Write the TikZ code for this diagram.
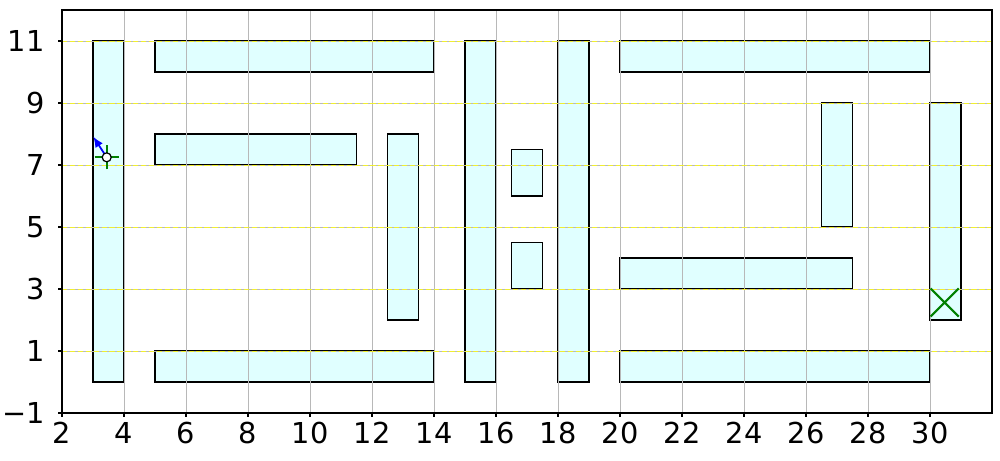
\documentclass[tikz,border=0pt]{standalone}
\usepackage{fontspec}
\setmainfont{DejaVu Sans}
\usetikzlibrary{arrows.meta,shapes.misc}
\definecolor{ObstFill}{HTML}{E0FFFF}
\definecolor{GridGray}{HTML}{B8B8B8}
\definecolor{GridYellow}{HTML}{F0EE30}
\definecolor{MarkGreen}{HTML}{008000}
\definecolor{HeadBlue}{HTML}{0000FF}
\tikzset{
  % obstacle block
  OB/.style={fill=ObstFill,draw=black,line width=0.7pt},
  % grid lines
  gV/.style={GridGray,line width=0.5pt},
  gH/.style={GridGray,line width=0.5pt},
  gY/.style={GridYellow,line width=0.55pt,dash pattern=on 3pt off 1.5pt},
  tk/.style={black,line width=0.6pt},
  % tick labels
  LX/.style={font=\fontsize{16.4}{19}\selectfont,inner sep=0pt},
  LY/.style={LX,anchor=east},
  % robot, heading and goal
  bot/.style={circle,draw=black,fill=white,line width=0.7pt,
              minimum size=0.18cm,inner sep=0pt},
  arr/.style={-{Latex[length=6pt,width=5pt]},HeadBlue,line width=1pt},
  goalX/.style={cross out,draw=MarkGreen,line width=1.2pt,
                minimum size=0.52cm,inner sep=0pt}
}
\begin{document}
\begin{tikzpicture}[x=0.62cm,y=0.62cm]
  \useasboundingbox (0,-2.516) rectangle (32.258,12.323);
  % obstacles
  \foreach \xa/\ya/\xb/\yb in {3/0/4/11, 5/10/14/11, 5/7/11.5/8, 12.5/2/13.5/8,
      5/0/14/1, 15/0/16/11, 16.5/6/17.5/7.5, 16.5/3/17.5/4.5, 18/0/19/11,
      20/10/30/11, 26.5/5/27.5/9, 30/2/31/9, 20/3/27.5/4, 20/0/30/1}
    \draw[OB] (\xa,\ya) rectangle (\xb,\yb);
  % grid
  \foreach \gx in {4,6,...,30}
    \draw[gV] (\gx,-1) -- (\gx,12);
  \foreach \gy in {1,3,...,11}{
    \draw[gH] (2,\gy) -- (32,\gy);
    \draw[gY] (2,\gy) -- (32,\gy);
  }
  % frame and ticks
  \draw[line width=0.8pt] (2,-1) rectangle (32,12);
  \foreach \gx in {2,4,...,30}{
    \draw[tk] (\gx,-1) -- (\gx,-1.13);
    \node[LX] (xl\gx) at (\gx,-1.645) {\gx};
  }
  \foreach \gy/\gt/\gn in {-1/−1/0, 1/1/1, 3/3/2, 5/5/3, 7/7/4, 9/9/5, 11/11/6}{
    \draw[tk] (2,\gy) -- (1.87,\gy);
    \node[LY] (yl\gn) at (1.45,\gy) {\gt};
  }
  % goal
  \node[goalX] (goal) at (30.474,2.565) {};
  % robot with heading
  \coordinate (rc) at (3.442,7.248);
  \coordinate (head) at (3.01,7.913);
  \draw[MarkGreen,line width=1.2pt] (3.055,7.248) -- (3.829,7.248);
  \draw[MarkGreen,line width=1.2pt] (3.442,6.861) -- (3.442,7.635);
  \draw[arr] (rc) -- (head);
  \node[bot] (robot) at (rc) {};
\end{tikzpicture}
\end{document}
